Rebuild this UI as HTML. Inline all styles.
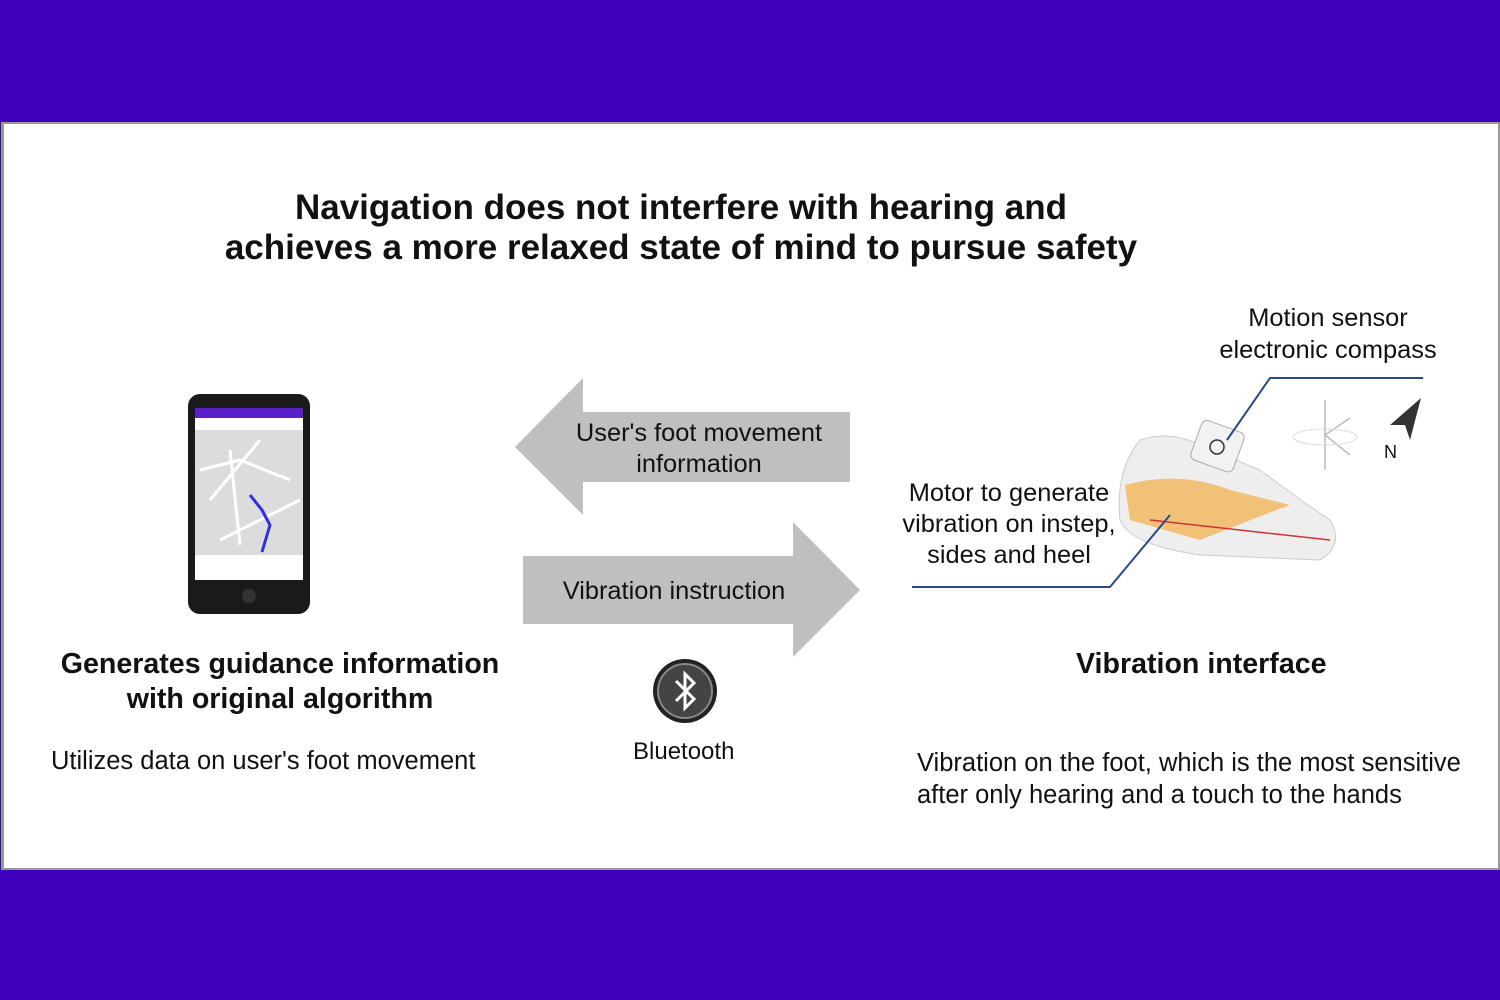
<!DOCTYPE html>
<html><head><style>
body{margin:0;width:1500px;height:1000px;background:#3f00bb;position:relative;font-family:"Liberation Sans",Arial,sans-serif;overflow:hidden}
.panel{position:absolute;left:1px;top:122px;width:1494px;height:744px;background:#fff;border:2px solid #999;border-left-width:3px}
.t{position:absolute;color:#111;white-space:nowrap}
</style></head><body>
<div class="panel"></div>
<div class="t" style="left:0;width:1362px;top:188px;text-align:center;font-weight:bold;font-size:35px;line-height:40px">Navigation does not interfere with hearing and<br>achieves a more relaxed state of mind to pursue safety</div>
<svg style="position:absolute;left:0;top:0" width="1500" height="1000">
<polygon points="515,447 583,378 583,412 850,412 850,482 583,482 583,515" fill="#bfbfbf"/>
<polygon points="523,556 793,556 793,522 860,590 793,657 793,624 523,624" fill="#bfbfbf"/>
<rect x="188" y="394" width="122" height="220" rx="12" fill="#1a1a1a"/>
<rect x="195" y="408" width="108" height="172" fill="#dcdcdc"/>
<rect x="195" y="408" width="108" height="10" fill="#5a1fc9"/>
<rect x="195" y="418" width="108" height="12" fill="#fff"/>
<path d="M200 470 L240 460 L290 480 M210 500 L260 440 M220 540 L300 500 M230 450 L240 545" stroke="#fff" stroke-width="3" fill="none"/>
<path d="M250 495 L262 510 L270 525 L262 552" stroke="#3030e0" stroke-width="3" fill="none"/>
<rect x="195" y="555" width="108" height="25" fill="#fff"/>
<circle cx="249" cy="596" r="7" fill="#333"/>
<circle cx="685" cy="691" r="32" fill="#222"/>
<circle cx="685" cy="691" r="27" fill="#444" stroke="#888" stroke-width="2"/>
<path d="M676 681 L694 699 L685 708 L685 674 L694 683 L676 701" stroke="#fff" stroke-width="3" fill="none"/>
<path d="M1120 520 Q1115 470 1140 440 Q1170 430 1200 445 L1260 470 Q1300 500 1330 520 Q1345 545 1320 560 L1200 555 Q1130 545 1120 520Z" fill="#eee" stroke="#ccc"/>
<path d="M1125 485 Q1180 470 1230 490 L1290 505 Q1250 520 1200 540 L1130 520Z" fill="#f3b55a" opacity=".8"/>
<path d="M1150 520 L1330 540" stroke="#c33" stroke-width="1.5"/>
<rect x="1195" y="425" width="45" height="42" rx="6" fill="#f2f2f2" stroke="#aaa" transform="rotate(20 1217 446)"/>
<circle cx="1217" cy="447" r="7" fill="none" stroke="#333" stroke-width="1.5"/>
<polyline points="912,587 1110,587 1170,515" stroke="#2a4a8a" stroke-width="2" fill="none"/>
<polyline points="1227,440 1270,378 1423,378" stroke="#2a4a8a" stroke-width="2" fill="none"/>
<path d="M1325 400 L1325 470 M1325 435 L1350 418 M1325 435 L1350 455" stroke="#bbb" stroke-width="1.5" fill="none"/>
<ellipse cx="1325" cy="437" rx="32" ry="8" fill="none" stroke="#ddd"/>
<polygon points="1421,398 1390,425 1405,425 1410,440" fill="#333"/>
</svg>
<div class="t" style="left:1384px;top:442px;font-size:18px">N</div>
<div class="t" style="left:539px;width:320px;top:418px;text-align:center;font-size:25.4px;line-height:31px">User's foot movement<br>information</div>
<div class="t" style="left:523px;width:302px;top:577px;text-align:center;font-size:25.4px">Vibration instruction</div>
<div class="t" style="left:1199px;width:258px;top:302px;text-align:center;font-size:25.4px;line-height:32px">Motion sensor<br>electronic compass</div>
<div class="t" style="left:890px;width:238px;top:478px;text-align:center;font-size:25.4px;line-height:31px">Motor to generate<br>vibration on instep,<br>sides and heel</div>
<div class="t" style="left:40px;width:480px;top:647px;text-align:center;font-weight:bold;font-size:28.6px;line-height:35px">Generates guidance information<br>with original algorithm</div>
<div class="t" style="left:51px;top:747px;font-size:25.5px">Utilizes data on user's foot movement</div>
<div class="t" style="left:633px;top:738px;font-size:24px">Bluetooth</div>
<div class="t" style="left:1076px;top:648px;font-weight:bold;font-size:28.6px">Vibration interface</div>
<div class="t" style="left:917px;top:747px;font-size:25.5px;line-height:32px">Vibration on the foot, which is the most sensitive<br>after only hearing and a touch to the hands</div>
</body></html>
